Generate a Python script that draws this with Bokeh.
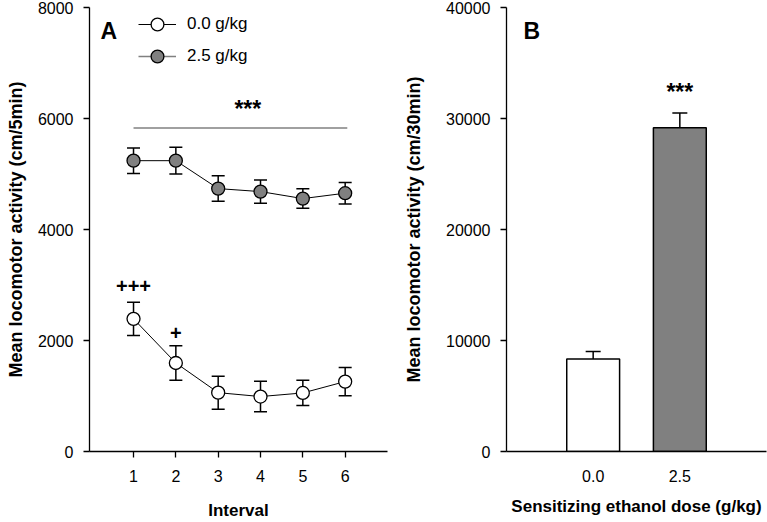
from bokeh.plotting import figure
from bokeh.layouts import row
from bokeh.models import (ColumnDataSource, Whisker, TeeHead, Legend, LegendItem,
                          Label, FixedTicker)
from bokeh.core.properties import value
from bokeh.embed import file_html
from bokeh.resources import INLINE

# ---------------- data ----------------
intervals = [1, 2, 3, 4, 5, 6]
mean_00 = [2390, 1595, 1060, 990, 1055, 1260]
sem_00 = [300, 310, 297, 275, 228, 255]
mean_25 = [5240, 5240, 4737, 4683, 4557, 4654]
sem_25 = [230, 240, 230, 210, 175, 195]

plus_x = [1, 2]
plus_y = [2973, 2135]
plus_text = ["+++", "+"]
starA_x = [3.7]
starA_y = [6176]
sigline_x0 = [1]
sigline_x1 = [6.05]
sigline_y = [5830]

dose_labels = ["0.0", "2.5"]
dose_pos = [1, 2]
total_mean = [8340, 29170]
total_sem = [660, 1320]
dose_colors = ["white", "#808080"]
starB_x = [2]
starB_y = [32400]

FONT = "Liberation Sans"


def style_axes(p):
    p.outline_line_color = None
    p.xgrid.visible = False
    p.ygrid.visible = False
    p.background_fill_color = "white"
    p.border_fill_color = "white"
    for ax in (p.xaxis[0], p.yaxis[0]):
        ax.axis_line_color = "black"
        ax.axis_line_width = 1.3
        ax.major_tick_line_color = "black"
        ax.major_tick_line_width = 1.3
        ax.major_tick_in = 0
        ax.major_tick_out = 6
        ax.minor_tick_line_color = None
        ax.major_label_text_font = FONT
        ax.major_label_text_font_size = "16px"
        ax.major_label_text_color = "black"
        ax.major_label_standoff = 10
        ax.axis_label_text_font = FONT
        ax.axis_label_text_font_style = "bold"
        ax.axis_label_text_color = "black"
    p.xaxis.axis_label_text_font_size = "17px"
    p.yaxis.axis_label_text_font_size = "18px"
    p.xaxis.major_label_standoff = 12


# ---------------- Panel A ----------------
pA = figure(width=395, height=522, x_range=(-0.04, 7), y_range=(0, 8000),
            output_backend="svg", toolbar_location=None,
            min_border_left=89, min_border_right=8, min_border_top=7,
            min_border_bottom=71)
style_axes(pA)
pA.xaxis.ticker = FixedTicker(ticks=intervals)
pA.yaxis.ticker = FixedTicker(ticks=[0, 2000, 4000, 6000, 8000])
pA.xaxis.axis_label = "Interval"
pA.xaxis.axis_label_standoff = 16
pA.yaxis.axis_label = "Mean locomotor activity (cm/5min)"
pA.yaxis.axis_label_standoff = 9

srcA0 = ColumnDataSource(dict(x=intervals, y=mean_00,
                              upper=[m + s for m, s in zip(mean_00, sem_00)],
                              lower=[m - s for m, s in zip(mean_00, sem_00)]))
srcA5 = ColumnDataSource(dict(x=intervals, y=mean_25,
                              upper=[m + s for m, s in zip(mean_25, sem_25)],
                              lower=[m - s for m, s in zip(mean_25, sem_25)]))

for src in (srcA0, srcA5):
    w = Whisker(source=src, base="x", upper="upper", lower="lower",
                line_color="black", line_width=1.5, level="underlay",
                upper_head=TeeHead(size=13, line_width=1.5, line_color="black"),
                lower_head=TeeHead(size=13, line_width=1.5, line_color="black"))
    pA.add_layout(w)

pA.segment(x0=sigline_x0, y0=sigline_y, x1=sigline_x1, y1=sigline_y,
           line_color="#808080", line_width=1.5)

# hidden grey line only used for the legend sample of the 2.5 g/kg series
lg5 = pA.line("x", "y", source=srcA5, line_color="#808080", line_width=1.5,
              visible=False)
l0 = pA.line("x", "y", source=srcA0, line_color="black", line_width=1)
l5 = pA.line("x", "y", source=srcA5, line_color="black", line_width=1)
c0 = pA.scatter("x", "y", source=srcA0, size=13, fill_color="white",
                line_color="black", line_width=1.3)
c5 = pA.scatter("x", "y", source=srcA5, size=13, fill_color="#808080",
                line_color="black", line_width=1.3)

pA.text(x=plus_x, y=plus_y, text=plus_text, text_align="center",
        text_baseline="middle", text_font=value(FONT), text_font_style="bold",
        text_font_size="20px", text_color="black")
pA.text(x=starA_x, y=starA_y, text=["***"], text_align="center",
        text_baseline="middle", text_font=value(FONT), text_font_style="bold",
        text_font_size="23px", text_color="black")

legend = Legend(items=[LegendItem(label="0.0 g/kg", renderers=[l0, c0]),
                       LegendItem(label="2.5 g/kg", renderers=[lg5, c5])],
                location=(49, 379), padding=0, margin=0, spacing=-8,
                glyph_width=38, glyph_height=32, label_height=32,
                label_standoff=11, label_text_font=FONT,
                label_text_font_size="17px", label_text_color="black",
                border_line_alpha=0, background_fill_alpha=0,
                inactive_fill_alpha=0)
pA.add_layout(legend)

pA.add_layout(Label(x=11, y=408, x_units="screen", y_units="screen", text="A",
                    text_font=FONT, text_font_style="bold",
                    text_font_size="23px", text_color="black"))

# ---------------- Panel B ----------------
pB = figure(width=372, height=522, x_range=(0, 3), y_range=(0, 40000),
            output_backend="svg", toolbar_location=None,
            min_border_left=111, min_border_right=1, min_border_top=7,
            min_border_bottom=71)
style_axes(pB)
pB.xaxis.ticker = FixedTicker(ticks=dose_pos)
pB.xaxis.major_label_overrides = {p: l for p, l in zip(dose_pos, dose_labels)}
pB.xaxis.major_tick_out = 0
pB.xaxis.major_tick_line_color = None
pB.xaxis.major_label_standoff = 18
pB.yaxis.ticker = FixedTicker(ticks=[0, 10000, 20000, 30000, 40000])
pB.xaxis.axis_label = "Sensitizing ethanol dose (g/kg)"
pB.xaxis.axis_label_standoff = 12
pB.yaxis.axis_label = "Mean locomotor activity (cm/30min)"
pB.yaxis.axis_label_standoff = 19

srcB = ColumnDataSource(dict(x=dose_pos, top=total_mean, color=dose_colors,
                             upper=[m + s for m, s in zip(total_mean, total_sem)],
                             lower=[m - s for m, s in zip(total_mean, total_sem)]))
pB.vbar(x="x", top="top", width=0.61, source=srcB, fill_color="color",
        line_color="black", line_width=1.5)
pB.add_layout(Whisker(source=srcB, base="x", upper="upper", lower="lower",
                      line_color="black", line_width=1.5,
                      upper_head=TeeHead(size=15, line_width=1.5, line_color="black"),
                      lower_head=TeeHead(size=15, line_width=1.5, line_color="black")))
pB.text(x=starB_x, y=starB_y, text=["***"], text_align="center",
        text_baseline="middle", text_font=value(FONT), text_font_style="bold",
        text_font_size="23px", text_color="black")
pB.add_layout(Label(x=17, y=408, x_units="screen", y_units="screen", text="B",
                    text_font=FONT, text_font_style="bold",
                    text_font_size="23px", text_color="black"))

p = row(pA, pB)
open("out.html", "w").write(file_html(p, INLINE))
